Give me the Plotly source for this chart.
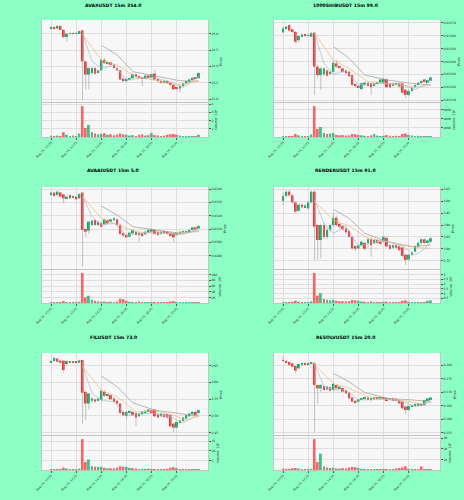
import plotly.graph_objects as go

# ---------------- data ----------------
times = ["Aug 14, 10:00", "Aug 14, 12:00", "Aug 14, 14:00", "Aug 14, 16:00", "Aug 14, 18:00", "Aug 14, 20:00"]
time_tick_idx = [0, 8, 16, 24, 32, 40]
n_candles = 48

# AVAXUSDT (USDT)
avax_open = [25.17, 25.20, 25.16, 25.24, 25.12, 24.90, 25.00, 25.02, 25.01, 25.02, 25.10, 24.15, 23.75, 23.80, 23.95, 23.80,
             23.88, 24.20, 24.10, 24.12, 24.05, 23.95, 23.88, 23.62, 23.58, 23.60, 23.64, 23.76, 23.70, 23.66, 23.62, 23.72,
             23.66, 23.78, 23.60, 23.56, 23.52, 23.55, 23.50, 23.44, 23.35, 23.32, 23.40, 23.48, 23.55, 23.60, 23.65, 23.64]
avax_high = [25.24, 25.22, 25.26, 25.25, 25.13, 25.02, 25.04, 25.04, 25.05, 25.10, 25.10, 24.18, 23.97, 23.97, 23.97, 23.90,
             24.22, 24.25, 24.15, 24.14, 24.07, 23.97, 23.90, 23.65, 23.64, 23.66, 23.78, 23.78, 23.72, 23.68, 23.74, 23.76,
             23.78, 23.88, 23.63, 23.58, 23.58, 23.57, 23.52, 23.46, 23.38, 23.42, 23.50, 23.57, 23.62, 23.67, 23.68, 23.82]
avax_low = [25.15, 25.12, 25.14, 25.10, 24.85, 24.76, 24.98, 24.98, 24.99, 25.00, 22.97, 23.30, 23.30, 23.75, 23.74, 23.78,
            23.86, 24.08, 24.05, 24.02, 23.93, 23.85, 23.58, 23.52, 23.52, 23.55, 23.62, 23.66, 23.62, 23.40, 23.60, 23.63,
            23.64, 23.58, 23.52, 23.48, 23.48, 23.47, 23.40, 23.28, 23.26, 23.20, 23.36, 23.46, 23.52, 23.58, 23.60, 23.62]
avax_close = [25.20, 25.16, 25.24, 25.12, 24.90, 25.00, 25.02, 25.01, 25.02, 25.08, 24.15, 23.75, 23.95, 23.95, 23.78, 23.88,
              24.20, 24.10, 24.12, 24.05, 23.95, 23.88, 23.60, 23.58, 23.60, 23.64, 23.76, 23.70, 23.66, 23.62, 23.72, 23.66,
              23.76, 23.60, 23.56, 23.52, 23.55, 23.50, 23.44, 23.30, 23.32, 23.40, 23.48, 23.55, 23.60, 23.65, 23.62, 23.80]
avax_volume_e5 = [0.20, 0.15, 0.20, 0.15, 0.60, 0.30, 0.15, 0.20, 0.15, 0.45, 3.76, 1.13, 1.49, 0.60, 0.45, 0.35,
                  0.40, 0.50, 0.30, 0.35, 0.25, 0.30, 0.45, 0.35, 0.30, 0.20, 0.25, 0.15, 0.30, 0.35, 0.20, 0.25,
                  0.50, 0.25, 0.20, 0.15, 0.20, 0.30, 0.35, 0.40, 0.30, 0.20, 0.15, 0.15, 0.10, 0.15, 0.15, 0.30]
avax_ma_long = {16: 24.65, 21: 24.35, 26: 23.84, 33: 23.70, 41: 23.56, 47: 23.55}
avax_ma_mid = {10: 24.98, 16: 24.19, 21: 24.04, 27: 23.68, 33: 23.58, 39: 23.43, 43: 23.46, 47: 23.56}
avax_ma_short = {10: 25.02, 13: 24.15, 16: 23.95, 20: 24.02, 24: 23.60, 29: 23.64, 33: 23.66, 38: 23.52, 42: 23.36, 45: 23.55, 47: 23.70}
avax_ticks = [23.0, 23.5, 24.0, 24.5, 25.0]
avax_ticktext = ["23.0", "23.5", "24.0", "24.5", "25.0"]

# 1000SHIBUSDT (units of 1e-5 USDT)
shib_open = [1362.7, 1365.8, 1368.4, 1365.0, 1363.0, 1356.7, 1359.8, 1361.0, 1360.0, 1359.3, 1362.4, 1336.0, 1329.4, 1330.0, 1333.0, 1330.5,
             1332.0, 1338.5, 1336.0, 1334.6, 1333.0, 1332.0, 1329.4, 1322.0, 1321.0, 1318.5, 1321.7, 1323.5, 1323.0, 1321.0, 1323.0, 1323.5,
             1323.5, 1326.0, 1323.0, 1321.0, 1323.0, 1323.0, 1323.0, 1318.0, 1314.0, 1317.0, 1320.0, 1321.7, 1323.5, 1326.0, 1324.0, 1325.0]
shib_high = [1367.0, 1368.0, 1369.0, 1366.0, 1363.5, 1360.5, 1362.0, 1361.5, 1361.5, 1363.0, 1363.0, 1337.0, 1335.5, 1335.5, 1334.0, 1333.0,
             1340.0, 1341.0, 1337.0, 1335.5, 1334.0, 1333.0, 1330.0, 1323.0, 1322.0, 1324.0, 1324.5, 1324.0, 1323.5, 1323.5, 1324.5, 1326.5,
             1327.5, 1327.0, 1323.5, 1323.5, 1323.5, 1323.5, 1323.5, 1319.0, 1318.0, 1320.0, 1322.5, 1324.0, 1325.5, 1326.5, 1326.0, 1328.5]
shib_low = [1362.0, 1365.0, 1363.5, 1362.0, 1354.0, 1355.0, 1359.0, 1359.0, 1359.5, 1359.0, 1314.0, 1327.0, 1318.0, 1329.0, 1328.0, 1330.0,
            1331.5, 1335.0, 1334.0, 1331.0, 1330.0, 1328.0, 1321.0, 1320.0, 1319.0, 1318.0, 1321.0, 1320.5, 1314.0, 1320.5, 1322.5, 1323.0,
            1323.0, 1319.5, 1319.0, 1320.5, 1321.5, 1320.0, 1315.0, 1311.5, 1313.0, 1316.5, 1319.5, 1321.0, 1323.0, 1323.5, 1323.5, 1324.5]
shib_close = [1365.8, 1367.1, 1364.0, 1363.0, 1355.4, 1359.8, 1361.0, 1360.0, 1360.5, 1362.0, 1336.0, 1329.4, 1334.6, 1334.6, 1329.0, 1332.0,
              1339.0, 1336.0, 1335.0, 1332.0, 1331.0, 1328.5, 1321.7, 1321.0, 1320.0, 1323.0, 1323.5, 1321.0, 1320.0, 1323.0, 1323.5, 1326.0,
              1326.5, 1320.0, 1320.0, 1323.0, 1322.0, 1320.5, 1315.8, 1314.0, 1317.0, 1319.5, 1321.7, 1323.5, 1324.7, 1324.0, 1325.5, 1327.5]
shib_volume_e6 = [200, 150, 200, 250, 700, 400, 200, 250, 200, 600, 6730, 1800, 2200, 900, 700, 800,
                  900, 500, 400, 450, 350, 400, 700, 650, 500, 400, 300, 250, 400, 700, 350, 250,
                  300, 450, 300, 200, 300, 250, 700, 800, 500, 350, 250, 300, 200, 250, 200, 250]
shib_ma_long = {16: 1351.5, 21: 1342.5, 26: 1329.5, 33: 1325.6, 41: 1323.0, 47: 1321.7}
shib_ma_mid = {10: 1362.0, 16: 1341.0, 21: 1334.6, 27: 1324.3, 33: 1323.0, 39: 1321.0, 43: 1320.0, 47: 1321.7}
shib_ma_short = {10: 1362.0, 13: 1338.5, 16: 1330.0, 20: 1333.0, 24: 1321.7, 29: 1322.5, 33: 1323.0, 38: 1321.7, 42: 1318.3, 45: 1321.7, 47: 1325.6}
shib_ticks = [0.01310, 0.01320, 0.01330, 0.01340, 0.01350, 0.01360, 0.01370]
shib_ticktext = ["0.01310", "0.01320", "0.01330", "0.01340", "0.01350", "0.01360", "0.01370"]

# AVAAIUSDT (units of 1e-4 USDT)
avaa_open = [335.5, 337.25, 335.5, 337.5, 336.0, 333.0, 335.5, 333.5, 334.25, 333.0, 337.25, 310.0, 308.75, 313.0, 316.75, 313.0,
             314.25, 313.5, 316.75, 315.5, 316.5, 317.25, 313.0, 306.75, 305.5, 304.25, 306.75, 308.0, 305.5, 306.75, 306.0, 307.25,
             308.0, 309.25, 308.0, 306.25, 308.0, 308.0, 307.25, 306.75, 305.5, 306.25, 307.25, 307.75, 307.75, 309.25, 311.25, 310.5]
avaa_high = [338.0, 338.0, 338.75, 338.0, 336.5, 335.0, 336.0, 335.0, 334.75, 336.75, 338.0, 310.75, 316.0, 317.0, 317.25, 316.0,
             315.0, 317.75, 317.25, 317.75, 318.5, 317.75, 313.5, 307.25, 306.0, 307.75, 309.75, 308.5, 307.75, 307.25, 308.5, 309.75,
             310.5, 309.75, 308.5, 308.5, 308.5, 308.5, 307.75, 307.25, 307.75, 308.5, 308.5, 309.0, 309.75, 311.75, 311.75, 313.0]
avaa_low = [335.0, 334.5, 335.0, 334.0, 329.25, 332.25, 332.5, 333.0, 331.75, 332.5, 281.75, 304.25, 306.5, 312.0, 312.5, 312.5,
            311.0, 313.0, 313.75, 315.0, 316.0, 312.5, 305.5, 304.5, 303.25, 303.75, 306.25, 305.0, 300.5, 304.25, 305.5, 307.0,
            307.5, 305.75, 305.0, 305.75, 306.75, 305.75, 304.25, 300.5, 305.0, 305.75, 306.75, 307.25, 307.25, 308.75, 309.25, 310.0]
avaa_close = [337.25, 334.75, 338.0, 334.25, 333.0, 334.25, 333.0, 334.5, 332.25, 336.25, 309.25, 308.0, 315.5, 316.25, 313.0, 315.5,
              311.75, 317.25, 314.25, 317.25, 318.0, 313.0, 306.25, 305.0, 303.75, 307.25, 309.25, 305.5, 307.25, 304.75, 308.0, 309.25,
              309.75, 306.25, 305.5, 308.0, 307.25, 306.25, 304.75, 303.75, 307.25, 308.0, 308.0, 308.5, 309.25, 311.25, 309.75, 312.25]
avaa_volume_e6 = [3, 2, 3, 2, 7, 4, 3, 3, 2, 5, 106, 20, 26, 12, 8, 6,
                  5, 6, 4, 5, 4, 6, 16, 14, 8, 5, 4, 4, 6, 3, 3, 2,
                  3, 4, 3, 2, 2, 3, 6, 7, 3, 2, 2, 2, 3, 4, 2, 3]
avaa_ma_long = {16: 327.25, 21: 320.5, 26: 311.75, 33: 309.25, 41: 306.75, 47: 308.75}
avaa_ma_mid = {10: 334.25, 16: 318.0, 21: 313.25, 27: 308.0, 33: 306.75, 39: 306.75, 43: 307.5, 47: 308.0}
avaa_ma_short = {10: 334.75, 13: 319.25, 16: 313.0, 20: 314.25, 24: 305.5, 29: 306.75, 33: 308.0, 38: 306.25, 42: 306.0, 45: 308.0, 47: 310.5}
avaa_ticks = [0.0290, 0.0300, 0.0310, 0.0320, 0.0330, 0.0340]
avaa_ticktext = ["0.0290", "0.0300", "0.0310", "0.0320", "0.0330", "0.0340"]

# RENDERUSDT (units of 0.01 USDT)
render_open = [400.2, 402.2, 404.0, 402.5, 399.5, 396.0, 398.5, 397.5, 397.0, 399.5, 404.0, 390.0, 383.7, 390.0, 385.0, 388.0,
               390.0, 393.0, 390.5, 389.5, 388.5, 387.5, 385.0, 381.2, 380.2, 381.5, 382.5, 382.3, 384.0, 382.3, 383.7, 383.0,
               383.0, 384.5, 381.5, 380.5, 381.5, 381.0, 380.5, 377.5, 375.5, 377.5, 378.8, 381.0, 382.5, 384.0, 382.8, 383.0]
render_high = [403.5, 404.5, 404.8, 403.0, 400.0, 399.0, 399.0, 398.7, 400.0, 404.5, 404.5, 390.5, 390.5, 391.0, 389.0, 390.5,
               395.2, 394.0, 391.0, 390.0, 389.0, 388.0, 385.5, 381.5, 382.0, 383.5, 383.0, 384.5, 384.5, 384.0, 384.0, 383.5,
               385.5, 385.5, 382.0, 382.0, 382.0, 381.5, 381.0, 378.0, 378.0, 379.0, 381.5, 383.0, 384.5, 384.5, 384.0, 385.0]
render_low = [398.5, 401.5, 402.0, 399.0, 395.0, 395.5, 397.0, 397.0, 396.5, 399.0, 375.3, 375.5, 376.0, 384.0, 384.0, 387.0,
              389.5, 389.5, 388.5, 387.5, 386.0, 384.5, 379.5, 379.0, 379.5, 381.0, 379.3, 380.0, 376.7, 382.0, 382.0, 381.5,
              382.5, 380.5, 379.5, 380.0, 380.0, 379.0, 376.5, 373.2, 375.0, 377.0, 378.5, 380.5, 382.0, 382.0, 382.3, 382.5]
render_close = [402.2, 404.0, 402.5, 399.5, 395.6, 398.5, 397.5, 398.2, 399.5, 404.0, 389.3, 383.7, 390.0, 385.0, 388.0, 390.0,
                393.0, 390.0, 389.3, 388.2, 387.0, 385.0, 380.2, 380.0, 381.5, 383.0, 380.0, 384.0, 381.5, 383.7, 382.5, 382.2,
                385.0, 381.0, 380.0, 381.5, 380.5, 379.5, 377.0, 375.3, 377.5, 378.5, 381.2, 382.5, 384.0, 382.5, 383.5, 384.4]
render_volume_e5 = [0.12, 0.08, 0.12, 0.10, 0.25, 0.15, 0.10, 0.08, 0.10, 0.20, 3.16, 0.80, 1.05, 0.45, 0.35, 0.30,
                    0.35, 0.25, 0.20, 0.20, 0.18, 0.20, 0.35, 0.30, 0.25, 0.18, 0.15, 0.12, 0.20, 0.12, 0.10, 0.12,
                    0.15, 0.15, 0.12, 0.10, 0.10, 0.12, 0.25, 0.30, 0.15, 0.10, 0.08, 0.08, 0.07, 0.10, 0.25, 0.30]
render_ma_long = {16: 396.6, 21: 392.8, 26: 386.5, 33: 383.0, 41: 380.9, 47: 381.6}
render_ma_mid = {10: 399.8, 16: 392.1, 21: 389.6, 27: 384.4, 33: 383.0, 39: 381.6, 43: 380.5, 47: 380.2}
render_ma_short = {10: 400.5, 13: 390.7, 16: 386.5, 20: 389.5, 24: 380.9, 29: 383.0, 33: 383.2, 38: 381.2, 42: 377.4, 45: 380.0, 47: 383.0}
render_ticks = [3.75, 3.80, 3.85, 3.90, 3.95, 4.00, 4.05]
render_ticktext = ["3.75", "3.80", "3.85", "3.90", "3.95", "4.00", "4.05"]

# FILUSDT (units of 0.001 USDT)
fil_open = [2660, 2664, 2671, 2665, 2665, 2655, 2662, 2660, 2662, 2659, 2667, 2572, 2537, 2545, 2549, 2545,
            2548, 2572, 2560, 2562, 2552, 2545, 2537, 2512, 2500, 2510, 2512, 2509, 2499, 2505, 2509, 2512,
            2517, 2519, 2505, 2499, 2505, 2505, 2502, 2477, 2465, 2479, 2485, 2492, 2499, 2505, 2512, 2509]
fil_high = [2666, 2676, 2673, 2667, 2667, 2666, 2664, 2664, 2664, 2668, 2668, 2573, 2568, 2555, 2551, 2554,
            2578, 2577, 2567, 2564, 2554, 2547, 2538, 2514, 2514, 2517, 2514, 2511, 2509, 2514, 2517, 2521,
            2519, 2521, 2507, 2509, 2507, 2507, 2504, 2479, 2484, 2489, 2497, 2504, 2509, 2514, 2514, 2520]
fil_low = [2658, 2662, 2660, 2656, 2630, 2650, 2658, 2658, 2657, 2657, 2477, 2487, 2520, 2540, 2540, 2543,
           2545, 2557, 2558, 2548, 2540, 2534, 2505, 2499, 2490, 2508, 2500, 2470, 2497, 2503, 2507, 2510,
           2507, 2497, 2493, 2497, 2495, 2493, 2467, 2452, 2463, 2477, 2483, 2490, 2497, 2503, 2500, 2507]
fil_close = [2664, 2673, 2662, 2659, 2637, 2664, 2660, 2662, 2659, 2666, 2569, 2537, 2567, 2552, 2543, 2552,
             2575, 2560, 2565, 2550, 2542, 2537, 2509, 2502, 2512, 2515, 2502, 2495, 2507, 2512, 2515, 2519,
             2509, 2499, 2495, 2507, 2497, 2495, 2469, 2465, 2482, 2487, 2495, 2502, 2507, 2512, 2502, 2517]
fil_volume_e5 = [0.4, 0.3, 0.5, 0.4, 1.3, 0.9, 0.5, 0.4, 0.3, 0.8, 16.0, 4.2, 5.5, 2.0, 1.8, 1.7,
                 1.8, 1.2, 0.9, 1.0, 0.9, 1.3, 2.0, 1.8, 1.7, 1.2, 1.0, 0.9, 0.6, 0.5, 0.7, 0.8,
                 0.6, 0.5, 0.4, 0.6, 0.5, 0.6, 1.3, 1.5, 1.0, 0.5, 0.4, 0.4, 0.3, 0.4, 0.3, 0.4]
fil_ma_long = {16: 2619, 21: 2587, 26: 2539, 33: 2517, 41: 2507, 47: 2499}
fil_ma_mid = {10: 2647, 16: 2577, 21: 2557, 27: 2512, 33: 2515, 39: 2502, 43: 2487, 47: 2499}
fil_ma_short = {10: 2652, 13: 2567, 16: 2547, 20: 2542, 24: 2502, 29: 2507, 33: 2507, 38: 2497, 42: 2479, 45: 2495, 47: 2507}
fil_ticks = [2.45, 2.50, 2.55, 2.60, 2.65]
fil_ticktext = ["2.45", "2.50", "2.55", "2.60", "2.65"]

# RESOLVUSDT (units of 1e-4 USDT)
resolv_open = [1818, 1815, 1811, 1806, 1796.3, 1787.7, 1800, 1803.7, 1802, 1804, 1806, 1726, 1713.8, 1722.4, 1710, 1718,
               1707.6, 1726, 1713.8, 1715, 1705, 1697.8, 1680.5, 1668, 1664.5, 1672, 1675, 1679, 1673.2, 1675, 1679, 1677,
               1680, 1678, 1673.2, 1676.8, 1673.2, 1670.7, 1664.5, 1646, 1633.7, 1646, 1650, 1648.5, 1655.9, 1652, 1670, 1673.2]
resolv_high = [1833, 1817, 1813, 1808, 1798, 1806, 1806, 1806, 1809, 1812, 1810, 1728, 1730, 1725, 1722, 1720,
               1735, 1728, 1722, 1717, 1707, 1699, 1682, 1670, 1675, 1678, 1682, 1681, 1678, 1682, 1681, 1682,
               1682, 1680, 1678, 1678, 1675, 1672, 1666, 1648, 1650, 1654, 1658, 1660, 1658, 1672, 1678, 1682]
resolv_low = [1813, 1806, 1798, 1791, 1770, 1785, 1798, 1800, 1800, 1802, 1553.7, 1658.4, 1700, 1705, 1707, 1703,
              1705, 1711, 1712, 1700, 1693, 1675, 1662, 1658, 1662, 1670, 1673, 1671, 1665, 1673, 1675, 1675,
              1675, 1669, 1671, 1669, 1666, 1656, 1638, 1619, 1630, 1644, 1648, 1646, 1648, 1650, 1668, 1671]
resolv_close = [1815, 1808.6, 1800, 1793.8, 1779, 1803.7, 1803.7, 1802, 1806, 1808.6, 1726, 1713.8, 1726, 1707.6, 1720, 1705.2,
                1730, 1713.8, 1720, 1701.5, 1695.3, 1677, 1664.5, 1660.8, 1673.2, 1676.8, 1680.5, 1673.2, 1676.8, 1680.5, 1676.8, 1680.5,
                1676.8, 1670.7, 1676.8, 1670.7, 1668.2, 1658.4, 1640, 1633.7, 1648.5, 1652.2, 1655.9, 1658.4, 1650, 1670.7, 1676.8, 1680]
resolv_volume_e5 = [1.5, 1.0, 1.2, 1.8, 2.0, 1.5, 1.0, 0.8, 0.7, 1.2, 29.0, 7.5, 15.5, 3.4, 2.5, 2.0,
                    2.3, 1.5, 1.5, 1.8, 1.5, 2.5, 3.0, 2.8, 2.0, 1.2, 1.0, 0.8, 1.0, 0.9, 0.7, 0.6,
                    0.8, 0.9, 0.7, 0.6, 1.5, 2.0, 2.5, 3.5, 1.2, 0.8, 0.7, 0.9, 3.5, 0.9, 0.6, 0.5]
resolv_ma_long = {16: 1769, 21: 1738, 26: 1698, 33: 1677, 41: 1671, 47: 1665}
resolv_ma_mid = {10: 1800, 16: 1732, 21: 1714, 27: 1683, 33: 1673, 39: 1668, 43: 1658, 47: 1661}
resolv_ma_short = {10: 1804, 13: 1720, 16: 1708, 20: 1708, 24: 1671, 29: 1673, 33: 1673, 38: 1665, 42: 1646, 45: 1656, 47: 1671}
resolv_ticks = [0.155, 0.160, 0.165, 0.170, 0.175, 0.180]
resolv_ticktext = ["0.155", "0.160", "0.165", "0.170", "0.175", "0.180"]

charts = [
    dict(title="AVAXUSDT 15m 354.0", o=avax_open, h=avax_high, l=avax_low, c=avax_close, unit=1.0,
         vol=avax_volume_e5, vexp="⁵", vticks=[1, 2, 3, 4], ma=(avax_ma_long, avax_ma_mid, avax_ma_short),
         yr=(22.88, 25.42), ticks=avax_ticks, ticktext=avax_ticktext),
    dict(title="1000SHIBUSDT 15m 99.0", o=shib_open, h=shib_high, l=shib_low, c=shib_close, unit=1e-5,
         vol=shib_volume_e6, vexp="⁶", vticks=[2000, 4000, 6000], ma=(shib_ma_long, shib_ma_mid, shib_ma_short),
         yr=(0.013077, 0.013723), ticks=shib_ticks, ticktext=shib_ticktext),
    dict(title="AVAAIUSDT 15m 5.0", o=avaa_open, h=avaa_high, l=avaa_low, c=avaa_close, unit=1e-4,
         vol=avaa_volume_e6, vexp="⁶", vticks=[20, 40, 60, 80, 100], ma=(avaa_ma_long, avaa_ma_mid, avaa_ma_short),
         yr=(0.02793, 0.03415), ticks=avaa_ticks, ticktext=avaa_ticktext),
    dict(title="RENDERUSDT 15m 91.0", o=render_open, h=render_high, l=render_low, c=render_close, unit=0.01,
         vol=render_volume_e5, vexp="⁵", vticks=[0.5, 1.0, 1.5, 2.0, 2.5, 3.0], ma=(render_ma_long, render_ma_mid, render_ma_short),
         yr=(3.711, 4.0597), ticks=render_ticks, ticktext=render_ticktext),
    dict(title="FILUSDT 15m 73.0", o=fil_open, h=fil_high, l=fil_low, c=fil_close, unit=0.001,
         vol=fil_volume_e5, vexp="⁵", vticks=[5, 10, 15], ma=(fil_ma_long, fil_ma_mid, fil_ma_short),
         yr=(2.440, 2.6879), ticks=fil_ticks, ticktext=fil_ticktext),
    dict(title="RESOLVUSDT 15m 20.0", o=resolv_open, h=resolv_high, l=resolv_low, c=resolv_close, unit=1e-4,
         vol=resolv_volume_e5, vexp="⁵", vticks=[10, 20, 30], ma=(resolv_ma_long, resolv_ma_mid, resolv_ma_short),
         yr=(0.15378, 0.18443), ticks=resolv_ticks, ticktext=resolv_ticktext),
]

# ---------------- style / layout ----------------
W, H = 464, 500
BG = "#8cffc4"
PANEL = "#f7f7f7"
GRID = "#dedede"
UP, DOWN = "#00b060", "#fe3032"
WICK = "#9a9a9a"
MA_COLORS = ("#9a9a9a", "#f5b478", "#a7bccd")
FONT = "DejaVu Sans"

col_px = [(42, 208), (274, 440)]
row_px = [(20, 103, 137), (187, 270, 303), (353, 436, 470)]
title_x = [113, 345]
title_y = [5, 170, 337]

fig = go.Figure()
layout = dict(width=W, height=H, margin=dict(l=0, r=0, t=0, b=0, autoexpand=False), paper_bgcolor=BG,
              plot_bgcolor=PANEL, showlegend=False, barmode="overlay",
              font=dict(family=FONT, size=3, color="#222"))
annotations = []
idx = list(range(n_candles))

for k, ch in enumerate(charts):
    r, cidx = divmod(k, 2)
    xa = f"x{k + 1}" if k else "x"
    ypa = f"y{2 * k + 1}" if k else "y"
    yva = f"y{2 * k + 2}"
    u = ch["unit"]
    o = [v * u for v in ch["o"]]
    h = [v * u for v in ch["h"]]
    l = [v * u for v in ch["l"]]
    c = [v * u for v in ch["c"]]
    colors = [UP if cc >= oo else DOWN for oo, cc in zip(o, c)]

    wx, wy = [], []
    for i in idx:
        wx += [i, i, None]
        wy += [l[i], h[i], None]
    fig.add_trace(go.Scatter(x=wx, y=wy, mode="lines", line=dict(color=WICK, width=0.6),
                             xaxis=xa, yaxis=ypa, hoverinfo="skip"))
    fig.add_trace(go.Bar(x=idx, y=[abs(cc - oo) for oo, cc in zip(o, c)], base=[min(oo, cc) for oo, cc in zip(o, c)],
                         width=0.62, marker=dict(color=colors, line=dict(width=0)), xaxis=xa, yaxis=ypa))
    for ma, col in zip(ch["ma"], MA_COLORS):
        fig.add_trace(go.Scatter(x=list(ma.keys()), y=[v * u for v in ma.values()], mode="lines",
                                 line=dict(color=col, width=0.7), xaxis=xa, yaxis=ypa))
    fig.add_trace(go.Bar(x=idx, y=ch["vol"], width=0.62, marker=dict(color=colors, opacity=0.75, line=dict(width=0)),
                         xaxis=xa, yaxis=yva))

    x0, x1 = col_px[cidx]
    ytop, ysplit, ybot = row_px[r]
    xdom = [x0 / W, x1 / W]
    axis_common = dict(showgrid=True, gridcolor=GRID, gridwidth=0.5, zeroline=False, showline=True,
                       linecolor="#c4c4c4", linewidth=0.6, mirror=True, ticks="outside", ticklen=2,
                       tickwidth=0.5, tickcolor="#555", automargin=False, tickfont=dict(size=3, family=FONT))
    layout["xaxis" + (str(k + 1) if k else "")] = dict(
        axis_common, domain=xdom, range=[-2.9, 49.9], anchor=yva, tickvals=time_tick_idx, ticktext=times,
        tickangle=-45, rangeslider=dict(visible=False))
    layout["yaxis" + (str(2 * k + 1) if k else "")] = dict(
        axis_common, domain=[1 - ysplit / H, 1 - ytop / H], range=list(ch["yr"]), anchor=xa, side="right",
        tickvals=ch["ticks"], ticktext=ch["ticktext"],
        title=dict(text="Price", font=dict(size=3.4, family=FONT), standoff=2))
    vmin, vmax = min(ch["vol"]), max(ch["vol"])
    layout[f"yaxis{2 * k + 2}"] = dict(
        axis_common, domain=[1 - ybot / H, 1 - ysplit / H], range=[0.3 * vmin, 1.1 * vmax], anchor=xa, side="right",
        tickvals=ch["vticks"], ticktext=[f"{t:g}" for t in ch["vticks"]],
        title=dict(text=f"Volume  10{ch['vexp']}", font=dict(size=3.4, family=FONT), standoff=2))
    annotations.append(dict(text=f"<b>{ch['title']}</b>", x=title_x[cidx] / W, y=1 - title_y[r] / H,
                            xref="paper", yref="paper", xanchor="center", yanchor="middle", showarrow=False,
                            font=dict(size=4.6, family=FONT, color="#000")))

layout["annotations"] = annotations
fig.update_layout(**layout)
fig.write_html("out.html")
